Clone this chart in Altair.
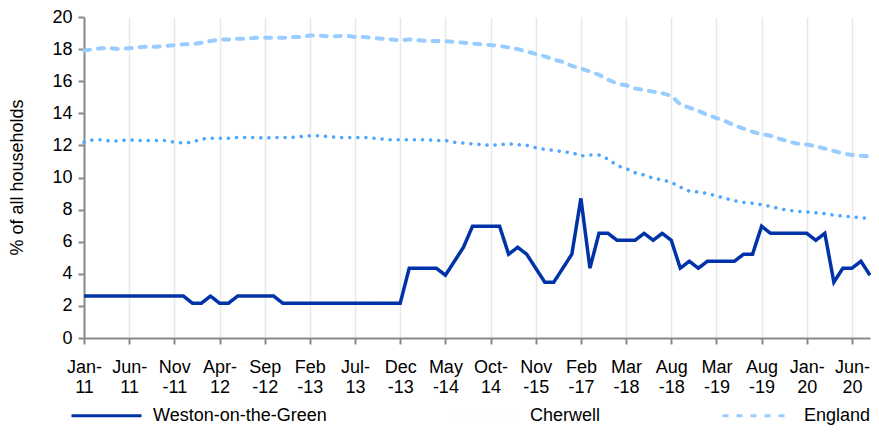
import json
import altair as alt
import pandas as pd

SERIES = ["Weston-on-the-Green", "Cherwell", "England"]
COLORS = ["#0033A8", "#4DA6FF", "#99CCFF"]

# labelled categories (every fifth point on the category axis)
TICK_LABELS = [
    ["Jan-", "11"], ["Jun-", "11"], ["Nov", "-11"], ["Apr-", "12"], ["Sep", "-12"],
    ["Feb", "-13"], ["Jul-", "13"], ["Dec", "-13"], ["May", "-14"], ["Oct-", "14"],
    ["Nov", "-15"], ["Feb", "-17"], ["Mar", "-18"], ["Aug", "-18"], ["Mar", "-19"],
    ["Aug", "-19"], ["Jan-", "20"], ["Jun-", "20"],
]
TICK_POS = list(range(0, 5 * len(TICK_LABELS), 5))
Y_TICKS = list(range(0, 21, 2))

WESTON = (
    [2.61] * 12 + [2.17, 2.17, 2.61, 2.17, 2.17] + [2.61] * 5 + [2.17] * 14
    + [4.35] * 4 + [3.91, 4.78, 5.65] + [6.96] * 4
    + [5.22, 5.65, 5.22, 4.35, 3.48, 3.48, 4.35, 5.22, 8.70, 4.35, 6.52, 6.52]
    + [6.09] * 3 + [6.52, 6.09, 6.52, 6.09, 4.35, 4.78, 4.35] + [4.78] * 4
    + [5.22, 5.22, 6.96] + [6.52] * 5 + [6.09, 6.52, 3.48, 4.35, 4.35, 4.78, 3.91]
)

CHERWELL = [
    12.20, 12.35, 12.35, 12.25, 12.30, 12.35, 12.30, 12.30, 12.30, 12.30,
    12.20, 12.15, 12.20, 12.40, 12.45, 12.45, 12.45, 12.50, 12.50, 12.50,
    12.45, 12.50, 12.50, 12.50, 12.55, 12.60, 12.60, 12.55, 12.50, 12.50,
    12.50, 12.50, 12.45, 12.40, 12.35, 12.35, 12.35, 12.35, 12.35, 12.30,
    12.30, 12.20, 12.15, 12.10, 12.05, 12.00, 12.05, 12.10, 12.05, 12.00,
    11.85, 11.75, 11.70, 11.60, 11.55, 11.35, 11.40, 11.40, 11.15, 10.75,
    10.55, 10.30, 10.15, 9.95, 9.85, 9.70, 9.40, 9.15, 9.10, 9.00,
    8.85, 8.70, 8.55, 8.45, 8.40, 8.30, 8.20, 8.05, 7.95, 7.90,
    7.85, 7.80, 7.75, 7.65, 7.60, 7.55, 7.50, 7.45,
]

ENGLAND = [
    17.90, 18.00, 18.05, 18.05, 18.00, 18.05, 18.10, 18.15, 18.15, 18.20,
    18.25, 18.30, 18.30, 18.40, 18.50, 18.60, 18.60, 18.65, 18.65, 18.70,
    18.70, 18.70, 18.70, 18.75, 18.75, 18.85, 18.85, 18.80, 18.80, 18.85,
    18.75, 18.75, 18.70, 18.65, 18.60, 18.55, 18.60, 18.55, 18.50, 18.50,
    18.50, 18.45, 18.40, 18.35, 18.30, 18.25, 18.20, 18.10, 18.00, 17.85,
    17.70, 17.55, 17.35, 17.20, 16.95, 16.80, 16.60, 16.40, 16.10, 15.85,
    15.75, 15.55, 15.45, 15.35, 15.25, 15.10, 14.55, 14.35, 14.15, 13.90,
    13.70, 13.50, 13.25, 13.05, 12.85, 12.70, 12.60, 12.40, 12.25, 12.10,
    12.05, 11.95, 11.80, 11.65, 11.50, 11.40, 11.35, 11.30,
]

rows = []
for name, vals in zip(SERIES, [WESTON, CHERWELL, ENGLAND]):
    for i, v in enumerate(vals):
        rows.append({"idx": i, "series": name, "value": v})
df = pd.DataFrame(rows)
n_last = len(WESTON) - 1

FONT = "Liberation Sans"
AXIS_GREY = "#898989"

label_expr = json.dumps(TICK_LABELS) + "[round(datum.value / 5)]"

legend = alt.Legend(
    title=None, orient="none", legendX=-14, legendY=362, direction="horizontal",
    symbolType="stroke", symbolSize=4900, symbolStrokeWidth=3,
    labelFont=FONT, labelFontSize=18, labelColor="#000000", labelOffset=10,
    labelLimit=400, columnPadding=115, padding=0,
)

x_enc = alt.X(
    "idx:Q",
    scale=alt.Scale(domain=[0, n_last], nice=False, zero=False),
    axis=alt.Axis(
        values=TICK_POS, labelExpr=label_expr, title=None,
        grid=True, gridColor="#e8e8e8", gridWidth=1.5,
        domainColor=AXIS_GREY, domainWidth=2,
        tickColor=AXIS_GREY, tickWidth=2, tickSize=6,
        labelFont=FONT, labelFontSize=18, labelColor="#000000",
        labelPadding=14, labelLineHeight=20, labelAlign="center", labelBaseline="top",
        labelOverlap=False, labelFlush=False, labelBound=False,
    ),
)
y_enc = alt.Y(
    "value:Q",
    scale=alt.Scale(domain=[0, 20], nice=False),
    axis=alt.Axis(
        values=Y_TICKS, grid=False,
        domainColor=AXIS_GREY, domainWidth=2,
        tickColor=AXIS_GREY, tickWidth=2, tickSize=6,
        labelFont=FONT, labelFontSize=18, labelColor="#000000", labelPadding=6,
        title="% of all households", titleFont=FONT, titleFontSize=18,
        titleFontWeight="normal", titleColor="#000000",
        titleX=-67, titleY=160, titleBaseline="middle",
    ),
)
color_enc = alt.Color("series:N", scale=alt.Scale(domain=SERIES, range=COLORS), legend=legend)
dash_enc = alt.StrokeDash(
    "series:N",
    scale=alt.Scale(domain=SERIES, range=[[1, 0], [0.1, 8], [6, 8]]),
    legend=legend,
)

base = alt.Chart(df).encode(x=x_enc, y=y_enc, color=color_enc, strokeDash=dash_enc)

england = base.transform_filter(alt.datum.series == SERIES[2]).mark_line(strokeWidth=4, strokeCap="round")
cherwell = base.transform_filter(alt.datum.series == SERIES[1]).mark_line(strokeWidth=3.5, strokeCap="round")
weston = base.transform_filter(alt.datum.series == SERIES[0]).mark_line(strokeWidth=3.5, strokeJoin="miter")

chart = (
    alt.layer(england, cherwell, weston)
    .properties(
        width=786, height=321,
        autosize=alt.AutoSizeParams(type="none"),
        padding={"left": 76, "top": 9, "right": 1, "bottom": 87},
        background="#ffffff",
    )
    .configure_view(stroke=None)
)

chart.save("out.html", embed_options={"renderer": "svg", "actions": False})
